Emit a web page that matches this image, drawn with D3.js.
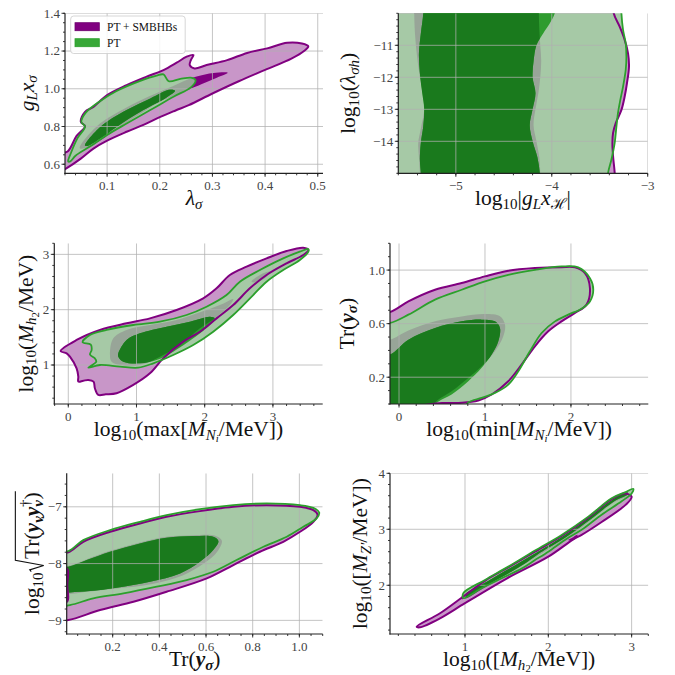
<!DOCTYPE html>
<html><head><meta charset="utf-8">
<script src="https://cdn.jsdelivr.net/npm/d3@7"></script>
<style>body{margin:0;background:#fff}svg{display:block}</style>
</head><body>
<svg id="c" width="675" height="675"></svg>
<script>
// ---------------- DATA (contour outlines, data coordinates) ----------------
// Panel A: lambda_sigma vs g_L x_sigma
const lamTicksX = [0.1,0.2,0.3,0.4,0.5];
const lamTicksY = [0.6,0.8,1.0,1.2,1.4];
const lamSMBHB2 = [[0.012,0.56],[0.021,0.575],[0.05,0.63],[0.074,0.683],[0.1,0.725],[0.137,0.772],[0.17,0.81],[0.201,0.851],[0.23,0.885],[0.255,0.913],[0.3,0.975],[0.35,1.04],[0.4,1.10],[0.45,1.16],[0.474,1.2],[0.482,1.225],[0.47,1.24],[0.442,1.244],[0.404,1.214],[0.366,1.19],[0.328,1.152],[0.289,1.126],[0.266,1.108],[0.257,1.125],[0.259,1.152],[0.264,1.179],[0.251,1.17],[0.232,1.138],[0.207,1.099],[0.175,1.064],[0.137,1.019],[0.1,0.966],[0.074,0.904],[0.058,0.878],[0.05,0.825],[0.058,0.802],[0.042,0.75],[0.026,0.67],[0.012,0.65]];
const lamSMBHB1 = [[0.048,0.685],[0.08,0.80],[0.135,0.898],[0.18,0.96],[0.22,1.008],[0.245,1.04],[0.27,1.065],[0.302,1.084],[0.329,1.085],[0.305,1.055],[0.28,1.025],[0.25,0.99],[0.225,0.96],[0.2,0.93],[0.17,0.88],[0.12,0.79],[0.088,0.728],[0.064,0.69]];
const lamPT2 = [[0.026,0.615],[0.032,0.665],[0.044,0.74],[0.058,0.80],[0.051,0.823],[0.059,0.872],[0.087,0.935],[0.118,0.988],[0.163,1.042],[0.194,1.07],[0.207,1.076],[0.217,1.04],[0.239,1.052],[0.261,1.058],[0.268,1.045],[0.259,1.007],[0.226,0.958],[0.182,0.887],[0.137,0.816],[0.099,0.754],[0.068,0.695],[0.04,0.645],[0.03,0.615]];
const lamPT1 = [[0.058,0.70],[0.087,0.798],[0.137,0.887],[0.182,0.949],[0.22,0.996],[0.229,0.989],[0.213,0.954],[0.169,0.887],[0.118,0.798],[0.087,0.736],[0.063,0.697]];

// Panel B: log10|g_L x_H| vs log10(lambda_sigma h)
const glxTicksX = [-5,-4,-3];
const glxTicksY = [-14,-13,-12,-11];
const glxSMBHB2 = [[-6,-9.5],[-3.36,-9.5],[-3.354,-10.0],[-3.292,-10.42],[-3.24,-10.83],[-3.205,-11.25],[-3.195,-11.67],[-3.216,-12.18],[-3.24,-12.6],[-3.274,-13.02],[-3.333,-13.43],[-3.361,-13.74],[-3.368,-14.05],[-3.361,-14.47],[-3.344,-14.99],[-3.34,-15.5],[-6,-15.5]];
const glxSMBHB1 = [[-5.434,-9.5],[-5.434,-10.0],[-5.427,-10.6],[-5.41,-11.2],[-5.385,-11.8],[-5.35,-12.5],[-5.33,-13.0],[-5.365,-13.6],[-5.392,-14.05],[-5.385,-14.5],[-5.375,-15.0],[-5.375,-15.5],[-4.12,-15.5],[-4.12,-15.0],[-4.13,-14.5],[-4.16,-14.0],[-4.19,-13.5],[-4.17,-13.0],[-4.14,-12.5],[-4.12,-12.0],[-4.11,-11.5],[-4.12,-11.0],[-4.13,-10.5],[-4.135,-10.0],[-4.135,-9.5]];
const glxPT2 = [[-6,-9.5],[-3.278,-9.5],[-3.274,-10.0],[-3.257,-10.52],[-3.229,-10.94],[-3.222,-11.36],[-3.229,-11.77],[-3.257,-12.29],[-3.285,-12.70],[-3.31,-13.12],[-3.326,-13.54],[-3.344,-14.05],[-3.378,-14.57],[-3.413,-14.99],[-3.42,-15.5],[-6,-15.5]];
const glxPT1 = [[-5.34,-9.5],[-5.34,-10.0],[-5.365,-10.63],[-5.385,-11.25],[-5.375,-11.87],[-5.35,-12.5],[-5.33,-13.01],[-5.34,-13.53],[-5.365,-14.05],[-5.375,-14.57],[-5.365,-15.0],[-5.365,-15.5],[-4.125,-15.5],[-4.125,-15.0],[-4.15,-14.5],[-4.2,-14.0],[-4.23,-13.5],[-4.2,-13.0],[-4.17,-12.5],[-4.2,-12.0],[-4.19,-11.5],[-4.16,-11.0],[-4.09,-10.63],[-4.02,-10.31],[-3.969,-10.0],[-3.95,-9.5]];

// Panel C: log10(max M_Ni) vs log10(M_h2)
const mxTicksX = [0,1,2,3];
const mxTicksY = [1,2,3];
const mxSMBHB2 = [[-0.112,1.253],[0.122,1.452],[0.464,1.633],[0.855,1.753],[1.197,1.843],[1.588,1.994],[1.978,2.205],[2.174,2.386],[2.369,2.627],[2.614,2.777],[2.907,2.928],[3.2,3.06],[3.444,3.12],[3.52,3.08],[3.444,2.988],[3.2,2.837],[2.907,2.627],[2.662,2.386],[2.418,2.084],[2.174,1.843],[1.93,1.602],[1.685,1.422],[1.392,1.12],[1.197,0.849],[0.953,0.64],[0.708,0.49],[0.55,0.47],[0.44,0.46],[0.39,0.58],[0.37,0.70],[0.293,0.73],[0.22,0.715],[0.147,0.70],[0.147,0.79],[0.122,0.94],[0.024,1.151],[-0.024,1.211]];
const mxSMBHB1a = [[0.611,1.181],[0.66,1.482],[0.855,1.633],[1.197,1.723],[1.588,1.813],[1.93,1.952],[2.223,2.084],[2.418,2.193],[2.369,2.084],[2.174,1.873],[1.93,1.663],[1.637,1.361],[1.343,1.151],[1.05,1.0],[0.757,1.0],[0.635,1.06]];
const mxSMBHB1b = [[2.687,2.506],[2.858,2.657],[2.956,2.687],[2.907,2.596],[2.76,2.494]];
const mxPT2 = [[0.21,1.41],[0.318,1.542],[0.562,1.633],[0.953,1.723],[1.343,1.783],[1.734,1.904],[2.027,2.054],[2.32,2.265],[2.516,2.506],[2.809,2.717],[3.151,2.928],[3.395,3.048],[3.517,3.096],[3.52,3.05],[3.395,2.898],[3.151,2.717],[2.907,2.506],[2.711,2.265],[2.418,1.904],[2.125,1.602],[1.832,1.361],[1.539,1.181],[1.246,1.03],[1.026,0.952],[0.757,0.97],[0.464,1.0],[0.293,0.952],[0.41,1.06],[0.39,1.12],[0.318,1.19],[0.342,1.27],[0.33,1.37]];
const mxPT1 = [[0.733,1.211],[0.855,1.452],[1.05,1.572],[1.441,1.693],[1.783,1.783],[2.076,1.873],[2.149,1.843],[2.076,1.723],[1.832,1.482],[1.539,1.241],[1.295,1.09],[1.05,1.03],[0.806,1.06],[0.733,1.151]];

// Panel D: log10(min M_Ni) vs Tr(y_sigma)
const mnTicksX = [0,1,2];
const mnTicksY = [0.2,0.6,1.0];
const mnSMBHB2 = [[-0.25,0.687],[-0.105,0.687],[0.109,0.766],[0.419,0.853],[0.729,0.903],[1.0,0.953],[1.271,0.995],[1.581,1.015],[1.891,1.022],[2.047,1.02],[2.163,0.978],[2.221,0.866],[2.182,0.742],[2.047,0.68],[1.891,0.617],[1.736,0.543],[1.581,0.431],[1.426,0.294],[1.271,0.17],[1.078,0.071],[0.922,0.026],[0.729,0.009],[0.5,0.008],[-0.25,0.008]];
const mnSMBHB1 = [[-0.25,0.48],[-0.105,0.48],[0.109,0.548],[0.419,0.617],[0.729,0.654],[1.0,0.672],[1.174,0.655],[1.233,0.593],[1.213,0.506],[1.116,0.394],[0.961,0.282],[0.806,0.195],[0.612,0.096],[0.45,0.03],[0.32,-0.05],[-0.25,-0.05]];
const mnPT2 = [[-0.25,0.605],[-0.105,0.605],[0.109,0.667],[0.419,0.779],[0.729,0.853],[1.0,0.916],[1.271,0.965],[1.581,1.002],[1.891,1.027],[2.085,1.02],[2.221,0.94],[2.26,0.853],[2.221,0.766],[2.124,0.712],[1.969,0.667],[1.814,0.617],[1.659,0.53],[1.523,0.394],[1.388,0.245],[1.271,0.145],[1.116,0.083],[0.961,0.046],[0.806,0.012],[0.73,-0.05],[-0.25,-0.05]];
const mnPT1 = [[-0.25,0.369],[-0.105,0.369],[0.109,0.48],[0.419,0.567],[0.729,0.617],[0.961,0.63],[1.116,0.617],[1.174,0.568],[1.155,0.468],[1.078,0.369],[0.961,0.27],[0.806,0.17],[0.612,0.071],[0.45,0.015],[0.34,-0.05],[-0.25,-0.05]];

// Panel E: Tr(y_sigma) vs log10 sqrt(Tr(y_nu y_nu^dagger))
const trTicksX = [0.2,0.4,0.6,0.8,1.0];
const trTicksY = [-9,-8,-7];
const trSMBHB2 = [[-0.05,-7.8],[0.01,-7.8],[0.074,-7.616],[0.189,-7.44],[0.317,-7.293],[0.431,-7.176],[0.574,-7.076],[0.717,-7.0],[0.86,-6.971],[1.003,-7.0],[1.06,-7.06],[1.078,-7.14],[1.06,-7.264],[1.003,-7.44],[0.931,-7.616],[0.831,-7.792],[0.717,-8.026],[0.603,-8.261],[0.431,-8.496],[0.289,-8.672],[0.146,-8.818],[0.01,-8.994],[-0.05,-9.0]];
const trSMBHB1 = [[-0.05,-8.04],[0.01,-8.04],[0.089,-7.922],[0.189,-7.776],[0.317,-7.628],[0.431,-7.528],[0.546,-7.5],[0.64,-7.51],[0.668,-7.6],[0.648,-7.79],[0.59,-8.0],[0.5,-8.21],[0.37,-8.36],[0.217,-8.44],[0.103,-8.49],[-0.05,-8.5]];
const trSMBHB1edge = [[-0.05,-8.08],[0.008,-8.08],[0.01,-8.38],[0.008,-8.68],[-0.05,-8.68]];
const trPT2 = [[-0.05,-7.78],[0.01,-7.78],[0.074,-7.587],[0.189,-7.41],[0.317,-7.264],[0.431,-7.147],[0.574,-7.041],[0.717,-6.971],[0.86,-6.941],[1.003,-6.971],[1.06,-7.02],[1.085,-7.1],[1.074,-7.205],[1.017,-7.352],[0.946,-7.528],[0.846,-7.704],[0.731,-7.938],[0.631,-8.144],[0.517,-8.29],[0.389,-8.407],[0.246,-8.525],[0.117,-8.613],[0.017,-8.73],[-0.05,-8.75]];
const trPT1 = [[-0.05,-8.056],[0.01,-8.056],[0.089,-7.938],[0.189,-7.792],[0.317,-7.645],[0.431,-7.545],[0.546,-7.516],[0.631,-7.528],[0.653,-7.604],[0.631,-7.762],[0.574,-7.968],[0.489,-8.173],[0.36,-8.32],[0.217,-8.425],[0.103,-8.484],[0.017,-8.507],[-0.05,-8.51]];

// Panel F: log10(M_h2) vs log10(M_Z')
const mhTicksX = [1,2,3];
const mhTicksY = [2,3,4];
const mhSMBHB2 = [[0.42,1.26],[0.7,1.50],[0.98,1.80],[1.24,2.08],[1.52,2.32],[1.84,2.60],[2.16,2.88],[2.48,3.21],[2.76,3.54],[2.92,3.64],[3.0,3.58],[2.93,3.44],[2.64,3.13],[2.40,2.90],[2.3,2.82],[2.0,2.51],[1.5,2.12],[1.0,1.68],[0.7,1.41],[0.46,1.25]];
const mhSMBHB1a = [[0.95,1.76],[0.98,1.83],[1.3,2.1],[1.6,2.36],[1.9,2.62],[2.2,2.9],[2.5,3.22],[2.8,3.56],[2.95,3.66],[2.95,3.6],[2.8,3.49],[2.5,3.15],[2.2,2.82],[1.9,2.55],[1.6,2.27],[1.3,2.02],[1.0,1.76]];
const mhSMBHB1b = [[2.24,2.81],[2.3,2.86],[2.35,2.9],[2.34,2.85],[2.28,2.8]];
const mhPT2 = [[0.98,1.86],[1.24,2.095],[1.52,2.333],[1.84,2.62],[2.16,2.90],[2.48,3.226],[2.76,3.554],[2.92,3.66],[3.02,3.72],[3.0,3.64],[2.88,3.50],[2.64,3.26],[2.40,2.99],[2.24,2.85],[2.16,2.77],[2.0,2.60],[1.84,2.45],[1.68,2.30],[1.44,2.125],[1.2,1.946],[0.98,1.77]];
const mhPT1 = [[1.0,1.83],[1.3,2.10],[1.6,2.36],[1.9,2.62],[2.2,2.90],[2.5,3.22],[2.8,3.56],[2.95,3.66],[2.95,3.62],[2.8,3.51],[2.5,3.17],[2.2,2.85],[1.9,2.58],[1.75,2.42],[1.6,2.28],[1.3,2.03],[1.0,1.78]];

const legendLabels = ["PT + SMBHBs", "PT"];

// ---------------- STYLE ----------------
const C = {p2:'#c896c8', p1:'#800080', pline:'#800080', g2:'#a6c9a6', gray:'#98a598', g1:'#1a7a1d', g1m:'#2f9c2f', gline:'#2ca02c'};
const FONT = '"Liberation Serif","DejaVu Serif",serif';
const svg = d3.select('#c');
const defs = svg.append('defs');

const f1 = d3.format('.1f'), f0 = d3.format('d');
const panels = [
 {box:[65,13.3,323,173.3], xd:[0.02,0.51], yd:[0.552,1.4], xt:lamTicksX, yt:lamTicksY, xm:0.02, ym:0.05, xf:f1, yf:f1,
  P2:[lamSMBHB2], P1:[lamSMBHB1], G2:[lamPT2], G1:[lamPT1], TOP:[], ylx:33.5,
  xlab:[['λ','i'],['σ','i1']], ylab:[['g','i'],['L','i1'],['x','i'],['σ','i1']]},
 {box:[398.3,13.3,647.7,173.3], xd:[-5.6,-3], yd:[-15,-10], xt:glxTicksX, yt:glxTicksY, xm:0.2, ym:0.2, xf:f0, yf:f0,
  P2:[glxSMBHB2], P1:[glxSMBHB1], G2:[glxPT2], G1:[glxPT1], TOP:[], ylx:355,
  xlab:[['log',''],['10','1'],['|',''],['g','i'],['L','i1'],['x','i'],['ℋ','1'],['|','']],
  ylab:[['log',''],['10','1'],['(',''],['λ','i'],['σh','i1'],[')','']]},
 {box:[54.3,243.3,322.7,404], xd:[-0.205,3.73], yd:[0.295,3.2], xt:mxTicksX, yt:mxTicksY, xm:0.2, ym:0.2, xf:f0, yf:f0,
  P2:[mxSMBHB2], P1:[mxSMBHB1a,mxSMBHB1b], G2:[mxPT2], G1:[mxPT1], TOP:[], ylx:32.5,
  xlab:[['log',''],['10','1'],['(max[',''],['M','i'],['N','i1'],['i','i2'],['/MeV])','']],
  ylab:[['log',''],['10','1'],['(',''],['M','i'],['h','i1'],['2','2'],['/MeV)','']]},
 {box:[390,243.3,648.3,404], xd:[-0.105,2.9], yd:[0,1.2], xt:mnTicksX, yt:mnTicksY, xm:0.2, ym:0.1, xf:f0, yf:f1,
  P2:[mnSMBHB2], P1:[mnSMBHB1], G2:[mnPT2], G1:[mnPT1], TOP:[], ylx:353.5,
  xlab:[['log',''],['10','1'],['(min[',''],['M','i'],['N','i1'],['i','i2'],['/MeV])','']],
  ylab:[['Tr(',''],['y','bi'],['σ','bi1'],[')','']]},
 {box:[66.7,473.3,322.7,634], xd:[0.003,1.1], yd:[-9.24,-6.41], xt:trTicksX, yt:trTicksY, xm:0.05, ym:0.2, xf:f1, yf:f0,
  P2:[trSMBHB2], P1:[trSMBHB1], G2:[trPT2], G1:[trPT1], TOP:[trSMBHB1edge], ylx:39,
  xlab:[['Tr(',''],['y','bi'],['σ','bi1'],[')','']],
  ylab:[['log',''],['10','1'],['Tr(','R'],['y','bi'],['ν','bi1'],['y','bi'],['ν','bi1'],['†','sk'],[')','']]},
 {box:[390,473.3,648.3,634], xd:[0.1,3.2], yd:[1.13,4.0], xt:mhTicksX, yt:mhTicksY, xm:0.2, ym:0.2, xf:f0, yf:f0,
  P2:[mhSMBHB2], P1:[mhSMBHB1a,mhSMBHB1b], G2:[mhPT2], G1:[mhPT1], TOP:[], ylx:367,
  xlab:[['log',''],['10','1'],['([',''],['M','i'],['h','i1'],['2','2'],['/MeV])','']],
  ylab:[['log',''],['10','1'],['([',''],['M','i'],['Z′','i1'],['/MeV])','']]}
];

function mathText(t, segs, fs){
  let cur = 0; let idx = 0; let radStart = -1;
  segs.forEach(([s,fl])=>{
    const lvl = fl.includes('2') ? 2 : fl.includes('1') ? 1 : 0;
    const sup = fl.includes('s');
    const size = sup ? fs*0.7 : lvl===1 ? fs*0.7 : lvl===2 ? fs*0.5 : fs;
    const off = sup ? -0.42*fs : lvl===1 ? 0.17*fs : lvl===2 ? 0.28*fs : 0;
    const ts = t.append('tspan').text(s).attr('font-size', size).attr('dy', off-cur);
    if (fl.includes('i')) ts.attr('font-style','italic');
    if (fl.includes('b')) ts.attr('font-weight','bold');
    if (fl.includes('k')) ts.attr('dx', -0.33*fs);
    if (fl.includes('R')) { ts.attr('dx', 0.62*fs); radStart = idx; }
    cur = off; idx += s.length;
  });
  return {radStart, total: idx};
}

panels.forEach((p, pi) => {
  const [L,T,R,B] = p.box;
  const x = d3.scaleLinear().domain(p.xd).range([L,R]);
  const y = d3.scaleLinear().domain(p.yd).range([B,T]);
  const ln = d3.line().x(d=>x(d[0])).y(d=>y(d[1])).curve(d3.curveCatmullRomClosed.alpha(0.5));
  const cid = 'cp'+pi;
  defs.append('clipPath').attr('id',cid+'r').append('rect').attr('x',L).attr('y',T).attr('width',R-L).attr('height',B-T);
  const cg2 = defs.append('clipPath').attr('id',cid+'g');
  p.G2.forEach(q=>cg2.append('path').attr('d',ln(q)));
  const cp1 = defs.append('clipPath').attr('id',cid+'p');
  p.P1.forEach(q=>cp1.append('path').attr('d',ln(q)));

  const g = svg.append('g').attr('clip-path',`url(#${cid}r)`);
  const fill = (grp, polys, col) => polys.forEach(q=>grp.append('path').attr('d',ln(q)).attr('fill',col));
  fill(g, p.P2, C.p2);
  fill(g, p.P1, C.p1);
  fill(g, p.G2, C.g2);
  fill(g.append('g').attr('clip-path',`url(#${cid}g)`), p.P1, C.gray);
  fill(g, p.G1, C.g1m);
  fill(g.append('g').attr('clip-path',`url(#${cid}p)`), p.G1, C.g1);
  fill(g, p.TOP, C.p1);

  // grid
  const grid = g.append('g').attr('stroke','#b0b0b0').attr('stroke-opacity',0.75).attr('stroke-width',1);
  p.xt.forEach(v=>grid.append('line').attr('x1',x(v)).attr('x2',x(v)).attr('y1',T).attr('y2',B));
  p.yt.forEach(v=>grid.append('line').attr('y1',y(v)).attr('y2',y(v)).attr('x1',L).attr('x2',R));

  p.P2.forEach(q=>g.append('path').attr('d',ln(q)).attr('fill','none').attr('stroke',C.pline).attr('stroke-width',2));
  p.G2.forEach(q=>g.append('path').attr('d',ln(q)).attr('fill','none').attr('stroke',C.gline).attr('stroke-width',1.8));

  // axes
  const ax = svg.append('g').attr('stroke','#222').attr('stroke-width',1.2);
  ax.append('line').attr('x1',L).attr('x2',L).attr('y1',T).attr('y2',B+0.6);
  ax.append('line').attr('x1',L-0.6).attr('x2',R).attr('y1',B).attr('y2',B);
  const minors = (d, st) => { const a=[]; for(let k=Math.ceil(d[0]/st-1e-9); k<=Math.floor(d[1]/st+1e-9); k++) a.push(k*st); return a; };
  const tk = ax.append('g').attr('stroke-width',0.9);
  minors(p.xd,p.xm).forEach(v=>tk.append('line').attr('x1',x(v)).attr('x2',x(v)).attr('y1',B).attr('y2',B+2));
  minors(p.yd,p.ym).forEach(v=>tk.append('line').attr('y1',y(v)).attr('y2',y(v)).attr('x1',L).attr('x2',L-2));
  p.xt.forEach(v=>tk.append('line').attr('x1',x(v)).attr('x2',x(v)).attr('y1',B).attr('y2',B+3.5));
  p.yt.forEach(v=>tk.append('line').attr('y1',y(v)).attr('y2',y(v)).attr('x1',L).attr('x2',L-3.5));
  const lab = svg.append('g').attr('font-family',FONT).attr('font-size',13).attr('fill','#444');
  p.xt.forEach(v=>lab.append('text').attr('x',x(v)).attr('y',B+17).attr('text-anchor','middle').text(p.xf(v)));
  p.yt.forEach(v=>lab.append('text').attr('x',L-5).attr('y',y(v)).attr('dy','0.34em').attr('text-anchor','end').text(p.yf(v)));

  // axis labels
  const fs = 21.5;
  const xt = svg.append('text').attr('x',(L+R)/2).attr('y',B+32).attr('text-anchor','middle')
     .attr('font-family',FONT).attr('font-size',fs).attr('fill','#111');
  mathText(xt, p.xlab, fs);
  const yg = svg.append('g').attr('transform',`translate(${p.ylx},${(T+B)/2}) rotate(-90)`);
  const yt = yg.append('text').attr('x',0).attr('y',0).attr('text-anchor','middle')
     .attr('font-family',FONT).attr('font-size',fs).attr('fill','#111');
  const info = mathText(yt, p.ylab, fs);
  if (info.radStart >= 0) {
    const node = yt.node();
    const xs = node.getStartPositionOfChar(info.radStart).x;
    const xe = node.getEndPositionOfChar(info.total-1).x;
    yg.append('path').attr('fill','none').attr('stroke','#111').attr('stroke-width',1.1)
      .attr('d',`M${xs-0.58*fs},${-0.36*fs}L${xs-0.5*fs},${-0.43*fs}L${xs-0.3*fs},${0.22*fs}L${xs-0.06*fs},${-1.1*fs}L${xe+0.05*fs},${-1.1*fs}`);
  }
});

// legend (panel A)
const lg = svg.append('g');
lg.append('rect').attr('x',70.7).attr('y',16).attr('width',114.5).attr('height',37.5).attr('rx',3)
  .attr('fill','#fff').attr('fill-opacity',0.85).attr('stroke','#cccccc').attr('stroke-width',0.8);
const lcol = [['#800080','#6d006d'],['#38a838','#2ca02c']];
legendLabels.forEach((t,i)=>{
  const yy = 26.7 + i*16;
  lg.append('rect').attr('x',75).attr('y',yy-4).attr('width',24.3).attr('height',8).attr('fill',lcol[i][0]).attr('stroke',lcol[i][1]).attr('stroke-width',0.8);
  lg.append('text').attr('x',107).attr('y',yy).attr('dy','0.34em').attr('font-family',FONT).attr('font-size',11.5).attr('fill','#111').text(t);
});
</script>
</body></html>
